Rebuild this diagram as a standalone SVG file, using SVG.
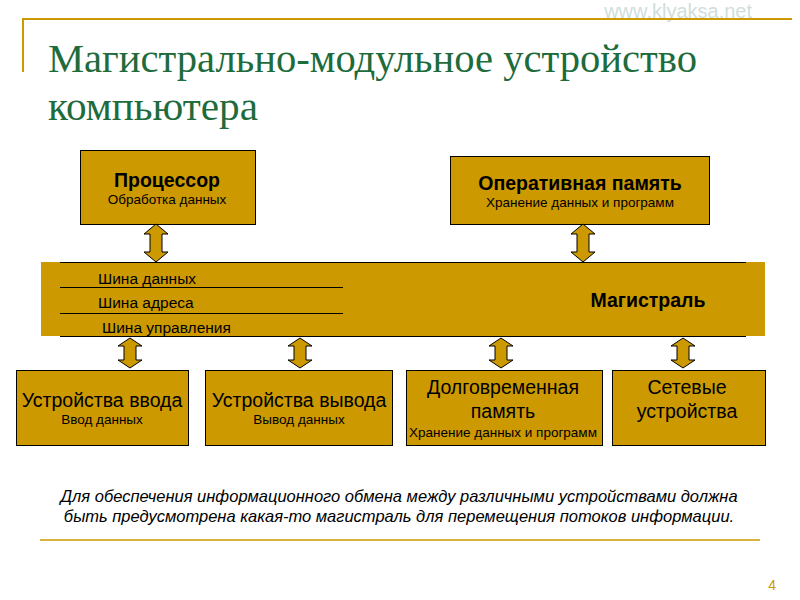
<svg xmlns="http://www.w3.org/2000/svg" width="800" height="600" viewBox="0 0 800 600">
<style>
.b{fill:#CC9900;stroke:#000;stroke-width:1}
.t{font-family:"Liberation Sans",Arial,sans-serif;fill:#000;text-anchor:middle}
.h{font-size:19.5px}
.s{font-size:13.5px}
.a{fill:#CC9900;stroke:#000;stroke-width:1}
.bl{font-family:"Liberation Sans",Arial,sans-serif;font-size:15.5px;fill:#000}
</style>
<defs>
<path id="arr" d="M0,-19 L12,-9 L6,-9 L6,9 L12,9 L0,19 L-12,9 L-6,9 L-6,-9 L-12,-9 Z" class="a"/>
<path id="arr2" d="M0,-15 L12,-7 L6,-7 L6,7 L12,7 L0,15 L-12,7 L-6,7 L-6,-7 L-12,-7 Z" class="a"/>
</defs>
<rect width="800" height="600" fill="#fff"/>
<text x="752" y="18" font-family="Liberation Sans,Arial,sans-serif" font-size="20" fill="#d0dedb" text-anchor="end">www.klyaksa.net</text>
<line x1="22" y1="19" x2="792" y2="19" stroke="#CC9900" stroke-width="2"/>
<line x1="23" y1="19" x2="23" y2="72" stroke="#CC9900" stroke-width="2"/>
<text font-family="Liberation Serif,'Times New Roman',serif" font-size="41" fill="#1E6B3C"><tspan x="48" y="72" textLength="649" lengthAdjust="spacingAndGlyphs">Магистрально-модульное устройство</tspan></text>
<text font-family="Liberation Serif,'Times New Roman',serif" font-size="41" fill="#1E6B3C"><tspan x="48" y="120" textLength="210" lengthAdjust="spacingAndGlyphs">компьютера</tspan></text>

<g id="bus">
<rect x="41" y="262" width="724" height="74" fill="#CC9900"/>
<line x1="60" y1="262.5" x2="746" y2="262.5" stroke="#000"/>
<line x1="60" y1="336.5" x2="746" y2="336.5" stroke="#000"/>
<line x1="60" y1="287.5" x2="343" y2="287.5" stroke="#000"/>
<line x1="60" y1="313.5" x2="343" y2="313.5" stroke="#000"/>
<text x="98" y="284" class="bl">Шина  данных</text>
<text x="98" y="308" class="bl">Шина  адреса</text>
<text x="102" y="333" class="bl">Шина  управления</text>
<text x="648" y="307" class="t h" font-weight="bold">Магистраль</text>
</g>

<g id="cpu"><rect x="80.5" y="150.5" width="175" height="74" class="b"/>
<text x="167" y="187" class="t h" font-weight="bold">Процессор</text>
<text x="167" y="204" class="t s">Обработка  данных</text></g>
<g id="ram"><rect x="450.5" y="156.5" width="259" height="68" class="b"/>
<text x="580" y="190" class="t h" font-weight="bold">Оперативная память</text>
<text x="580" y="207" class="t s">Хранение  данных и программ</text></g>
<g id="in"><rect x="16.5" y="370.5" width="172" height="75" class="b"/>
<text x="102" y="407" class="t h">Устройства ввода</text>
<text x="102" y="424" class="t s">Ввод данных</text></g>
<g id="out"><rect x="205.5" y="370.5" width="187" height="75" class="b"/>
<text x="299" y="407" class="t h">Устройства вывода</text>
<text x="299" y="424" class="t s">Вывод данных</text></g>
<g id="hdd"><rect x="406.5" y="370.5" width="196" height="75" class="b"/>
<text x="503" y="394" class="t h">Долговременная</text>
<text x="503" y="418" class="t h">память</text>
<text x="503" y="437" class="t s">Хранение  данных и программ</text></g>
<g id="net"><rect x="612.5" y="370.5" width="153" height="75" class="b"/>
<text x="687" y="394" class="t h">Сетевые</text>
<text x="687" y="418" class="t h">устройства</text></g>

<g id="connectors">
<use href="#arr" x="156" y="243"/>
<use href="#arr" x="583" y="243"/>
<use href="#arr2" x="130" y="353"/>
<use href="#arr2" x="300" y="353"/>
<use href="#arr2" x="501" y="353"/>
<use href="#arr2" x="683" y="353"/>
</g>

<text font-family="Liberation Sans,Arial,sans-serif" font-size="16.5" font-style="italic" text-anchor="middle" fill="#000"><tspan x="399" y="502">Для обеспечения информационного  обмена между различными устройствами должна</tspan><tspan x="399" y="522">быть предусмотрена какая-то магистраль для перемещения  потоков информации.</tspan></text>
<line x1="40" y1="540" x2="760" y2="540" stroke="#CC9900" stroke-width="1.5"/>
<text x="776" y="590" font-family="Liberation Sans,Arial,sans-serif" font-size="14" fill="#CC9900" text-anchor="end">4</text>
</svg>
